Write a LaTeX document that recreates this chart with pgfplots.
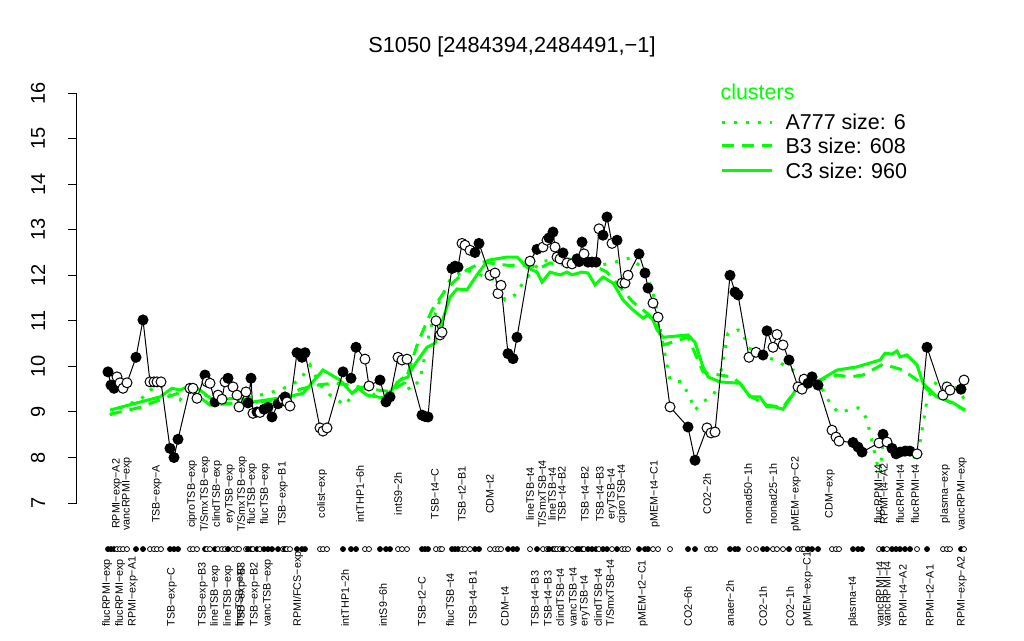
\documentclass[border=0pt]{standalone}
\usepackage{fontspec}
\setmainfont{Liberation Sans}
\usepackage{pgfplots}
\usepackage{pgfplotstable}
\pgfplotsset{compat=1.18}
\definecolor{rgreen}{RGB}{0,255,0}

\pgfplotstableread{
x y f
108 9.88 f
111 9.59 f
114 9.52 f
117 9.77 o
120 9.64 o
123 9.52 o
127 9.64 o
136 10.20 f
143 11.02 f
150 9.66 o
154 9.66 o
157 9.66 o
161 9.66 o
170 8.20 f
174 8.00 f
178 8.40 f
190 9.52 o
193 9.52 o
197 9.30 o
205 9.81 f
207 9.66 o
210 9.63 o
215 9.22 f
218 9.37 o
222 9.28 o
225 9.66 o
228 9.74 f
233 9.55 o
237 9.37 o
239 9.11 o
246 9.44 o
248 9.20 f
251 9.74 f
253 8.97 o
257 9.00 f
260 8.99 o
264 9.06 f
268 9.10 f
272 8.89 f
278 9.18 f
283 9.28 o
285 9.33 f
287 9.22 o
290 9.13 o
297 10.30 f
302 10.20 f
305 10.30 f
320 8.65 o
323 8.58 o
327 8.65 o
343 9.88 f
351 9.74 f
356 10.42 f
365 10.16 o
369 9.57 o
380 9.70 f
386 9.22 f
390 9.33 f
398 10.20 o
402 10.14 o
407 10.16 o
422 8.93 f
425 8.90 f
428 8.89 f
436 11.00 o
440 10.69 o
442 10.75 o
452 12.15 f
455 12.20 f
458 12.18 f
462 12.70 o
465 12.66 o
470 12.55 o
475 12.50 f
479 12.70 f
490 12.00 o
495 12.05 o
498 11.60 o
501 11.78 o
508 10.28 f
513 10.17 f
517 10.64 f
530 12.31 o
537 12.57 f
543 12.62 o
547 12.77 o
549 12.82 f
553 12.95 f
555 12.62 o
557 12.40 o
560 12.36 o
563 12.49 f
567 12.27 o
572 12.25 o
577 12.36 f
579 12.30 f
582 12.73 f
584 12.47 o
588 12.29 f
592 12.29 f
596 12.29 f
599 13.02 o
603 12.88 f
607 13.28 f
612 12.70 o
617 12.77 f
622 11.83 o
625 11.83 o
628 12.00 o
639 12.47 f
645 12.05 f
648 11.72 f
653 11.39 o
658 11.08 o
670 9.11 o
688 8.67 f
695 7.94 f
707 8.65 o
711 8.54 o
715 8.56 o
730 12.00 f
735 11.63 f
738 11.57 f
749 10.20 o
756 10.31 o
763 10.25 f
767 10.78 f
773 10.42 o
777 10.70 o
783 10.47 o
789 10.14 f
798 9.55 o
802 9.50 o
804 9.72 o
808 9.63 f
812 9.77 f
818 9.59 f
832 8.60 o
836 8.45 o
839 8.36 o
853 8.33 f
858 8.23 f
862 8.12 f
879 8.32 o
883 8.51 f
887 8.34 o
892 8.20 f
896 8.08 f
900 8.12 f
905 8.14 f
910 8.14 f
917 8.08 o
927 10.42 f
943 9.37 o
947 9.55 o
950 9.48 o
961 9.50 f
964 9.70 o
}\pts

\pgfplotstableread{
x y
110 9.04
137 9.20
160 9.33
172 9.52
180 9.48
187 9.55
192 9.59
200 9.48
213 9.26
240 9.31
253 9.22
287 9.33
303 9.41
323 9.92
340 9.70
352 9.41
358 9.52
367 9.37
383 9.31
390 9.44
400 9.70
408 9.77
413 9.99
427 10.42
435 10.51
440 10.84
450 11.52
457 11.70
467 11.68
477 12.01
488 12.33
507 12.40
517 12.40
528 12.16
537 12.07
542 11.85
550 12.07
560 12.01
567 12.07
572 12.01
582 12.07
588 12.05
595 11.79
603 11.96
613 11.83
623 11.46
633 11.24
643 11.06
648 11.13
653 11.02
657 10.80
663 10.64
688 10.69
695 10.53
703 9.99
708 9.77
720 9.66
740 9.63
750 9.33
760 9.33
767 9.11
775 9.11
783 9.06
797 9.52
820 9.70
837 9.92
857 9.99
880 10.14
885 10.29
892 10.27
897 10.34
900 10.21
907 10.25
917 10.03
923 9.63
937 9.33
953 9.20
965 9.04
}\cthree

\pgfplotstableread{
x y
110 8.95
140 9.10
170 9.35
190 9.50
210 9.15
240 9.20
280 9.25
300 9.50
320 9.60
335 9.63
350 9.59
370 9.50
390 9.45
405 9.65
418 10.53
432 11.24
447 11.72
467 12.12
483 12.29
507 12.22
527 12.22
540 12.16
550 12.27
567 12.22
583 12.27
597 12.18
607 12.07
620 11.74
633 11.41
647 11.17
657 10.95
663 10.47
688 10.64
703 9.88
708 9.85
732 9.77
740 9.63
750 9.35
767 9.15
783 9.10
797 9.52
820 9.70
837 9.81
850 9.77
863 9.81
883 10.05
903 9.92
917 9.70
930 9.44
965 9.04
}\bthree

\pgfplotstableread{
x y
110 8.93
125 9.15
140 9.26
150 9.48
160 9.59
170 9.37
180 9.26
190 9.59
200 9.44
210 9.31
220 9.15
240 9.26
260 9.37
280 9.48
300 9.70
310 10.03
320 9.59
330 9.37
345 9.15
360 9.59
375 9.37
390 9.26
400 9.81
410 9.48
420 9.70
430 10.80
440 11.46
450 11.90
465 12.12
480 12.01
495 11.90
505 11.46
515 11.57
525 11.90
540 12.29
560 12.38
580 12.33
600 12.22
615 12.29
630 12.38
645 12.12
655 11.46
660 10.84
668 9.92
670 9.70
682 9.66
690 9.31
695 9.04
703 9.22
713 9.37
718 9.55
728 10.73
738 10.80
742 10.78
748 10.42
760 10.25
775 10.14
793 9.92
823 9.48
832 9.11
840 8.98
850 9.06
858 9.09
863 9.00
867 8.82
870 8.54
877 7.88
880 7.66
883 8.38
893 8.16
907 8.23
917 7.94
927 9.26
937 9.70
957 9.52
965 9.26
}\aseven

\tikzset{
  lab/.style={rotate=90, font=\fontsize{4.3}{5}\selectfont, inner sep=0pt},
  blab/.style={lab, anchor=west},
  ulab/.style={lab, anchor=center},
}

\begin{document}
\begin{tikzpicture}
\begin{axis}[
  scale only axis,
  width=369.2pt, height=164pt,
  xmin=77, xmax=1000, ymin=7, ymax=16,
  axis x line=none,
  axis y line=left,
  y axis line style={-, line width=0.4pt},
  ytick={7,8,...,16},
  tick align=outside,
  major tick length=3.6pt,
  tick style={black, line width=0.4pt},
  /pgf/number format/assume math mode=true,
  yticklabel style={font=\fontsize{8}{9}\selectfont, xshift=-5.6pt, rotate=90, anchor=south},
  clip=false,
]
\coordinate (bl) at (axis cs:0,3.992);
\coordinate (tr) at (axis cs:1024,18.043);

% cluster profiles
\addplot[rgreen, line width=1.2pt, dash pattern=on 1.2pt off 3.6pt, no marks] table[x=x,y=y] {\aseven};
\addplot[rgreen, line width=1.2pt, dash pattern=on 4.8pt off 3.2pt, no marks] table[x=x,y=y] {\bthree};
\addplot[rgreen, line width=1.2pt, no marks] table[x=x,y=y] {\cthree};

% probe values
\addplot[black, line width=0.4pt, scatter, point meta=explicit symbolic,
  scatter/classes={
    f={mark=*, mark size=2pt, draw=black, fill=black},
    o={mark=*, mark size=2pt, draw=black, fill=white}}]
  table[x=x, y=y, meta=f] {\pts};

% rug
\addplot[only marks, scatter, point meta=explicit symbolic,
  scatter/classes={
    f={mark=*, mark size=1pt, draw=black, fill=black, line width=0.3pt},
    o={mark=*, mark size=1pt, draw=black, fill=white, line width=0.3pt}}]
  table[x=x, y expr=5.99, meta=f] {\pts};

% title
\node[font=\fontsize{8.7}{10}\selectfont] at (axis cs:512,17.01) {S1050 [2484394,2484491,−1]};

% legend
\node[anchor=west, text=rgreen, font=\fontsize{8.6}{10}\selectfont, inner sep=0pt] at (axis cs:720,16.02) {clusters};
\draw[rgreen, line width=1.2pt, dash pattern=on 1.2pt off 3.6pt] (axis cs:722,15.36) -- (axis cs:772,15.36);
\draw[rgreen, line width=1.2pt, dash pattern=on 4.8pt off 3.2pt] (axis cs:722,14.84) -- (axis cs:772,14.84);
\draw[rgreen, line width=1.2pt] (axis cs:722,14.29) -- (axis cs:772,14.29);
\node[anchor=west, font=\fontsize{8.6}{10}\selectfont, inner sep=0pt] at (axis cs:785,15.36) {A777 size: 6};
\node[anchor=west, font=\fontsize{8.6}{10}\selectfont, inner sep=0pt] at (axis cs:785,14.84) {B3 size: 608};
\node[anchor=west, font=\fontsize{8.6}{10}\selectfont, inner sep=0pt] at (axis cs:785,14.29) {C3 size: 960};

% lower tier labels
\node[blab] at (axis cs:107,4.28) {flucRPMI−exp};
\node[blab] at (axis cs:120,4.28) {flucRPMI−exp};
\node[blab] at (axis cs:133,4.28) {RPMI−exp−A1};
\node[blab] at (axis cs:172,4.28) {TSB−exp−C};
\node[blab] at (axis cs:203,4.28) {TSB−exp−B3};
\node[blab] at (axis cs:215,4.28) {lineTSB−exp};
\node[blab] at (axis cs:228,4.28) {lineTSB−exp};
\node[blab] at (axis cs:240,4.28) {lineTSB−exp};
\node[blab] at (axis cs:242,4.28) {TSB−exp−B3};
\node[blab] at (axis cs:255,4.28) {TSB−exp−B2};
\node[blab] at (axis cs:268,4.28) {vancTSB−exp};
\node[blab] at (axis cs:298,4.28) {RPMI/FCS−exp};
\node[blab] at (axis cs:345,4.28) {intTHP1−2h};
\node[blab] at (axis cs:383,4.28) {intS9−6h};
\node[blab] at (axis cs:422,4.28) {TSB−t2−C};
\node[blab] at (axis cs:450,4.28) {flucTSB−t4};
\node[blab] at (axis cs:473,4.28) {TSB−t4−B1};
\node[blab] at (axis cs:505,4.28) {CDM−t4};
\node[blab] at (axis cs:535,4.28) {TSB−t4−B3};
\node[blab] at (axis cs:548,4.28) {TSB−t4−B3};
\node[blab] at (axis cs:560,4.28) {clindTSB−t4};
\node[blab] at (axis cs:573,4.28) {vancTSB−t4};
\node[blab] at (axis cs:585,4.28) {eryTSB−t4};
\node[blab] at (axis cs:598,4.28) {clindTSB−t4};
\node[blab] at (axis cs:610,4.28) {T/SmxTSB−t4};
\node[blab] at (axis cs:643,4.28) {pMEM−t2−C1};
\node[blab] at (axis cs:688,4.28) {CO2−6h};
\node[blab] at (axis cs:730,4.28) {anaer−2h};
\node[blab] at (axis cs:763,4.28) {CO2−1h};
\node[blab] at (axis cs:790,4.28) {CO2−1h};
\node[blab] at (axis cs:808,4.28) {pMEM−exp−C1};
\node[blab] at (axis cs:853,4.28) {plasma−t4};
\node[blab] at (axis cs:880,4.28) {vancRPMI−t4};
\node[blab] at (axis cs:887,4.28) {vancRPMI−t4};
\node[blab] at (axis cs:903,4.28) {RPMI−t4−A2};
\node[blab] at (axis cs:930,4.28) {RPMI−t2−A1};
\node[blab] at (axis cs:962,4.28) {RPMI−exp−A2};

% upper tier labels
\node[ulab] at (axis cs:117,7.2) {RPMI−exp−A2};
\node[ulab] at (axis cs:127,7.2) {vancRPMI−exp};
\node[ulab] at (axis cs:157,7.2) {TSB−exp−A};
\node[ulab] at (axis cs:192,7.2) {ciproTSB−exp};
\node[ulab] at (axis cs:205,7.2) {T/SmxTSB−exp};
\node[ulab] at (axis cs:217,7.2) {clindTSB−exp};
\node[ulab] at (axis cs:230,7.2) {eryTSB−exp};
\node[ulab] at (axis cs:242,7.2) {T/SmxTSB−exp};
\node[ulab] at (axis cs:252,7.2) {flucTSB−exp};
\node[ulab] at (axis cs:265,7.2) {flucTSB−exp};
\node[ulab] at (axis cs:283,7.2) {TSB−exp−B1};
\node[ulab] at (axis cs:322,7.2) {colist−exp};
\node[ulab] at (axis cs:360,7.2) {intTHP1−6h};
\node[ulab] at (axis cs:398,7.2) {intS9−2h};
\node[ulab] at (axis cs:435,7.2) {TSB−t4−C};
\node[ulab] at (axis cs:462,7.2) {TSB−t2−B1};
\node[ulab] at (axis cs:490,7.2) {CDM−t2};
\node[ulab] at (axis cs:530,7.2) {lineTSB−t4};
\node[ulab] at (axis cs:542,7.2) {T/SmxTSB−t4};
\node[ulab] at (axis cs:552,7.2) {lineTSB−t4};
\node[ulab] at (axis cs:562,7.2) {TSB−t4−B2};
\node[ulab] at (axis cs:585,7.2) {TSB−t4−B2};
\node[ulab] at (axis cs:600,7.2) {TSB−t4−B3};
\node[ulab] at (axis cs:612,7.2) {eryTSB−t4};
\node[ulab] at (axis cs:622,7.2) {ciproTSB−t4};
\node[ulab] at (axis cs:655,7.2) {pMEM−t4−C1};
\node[ulab] at (axis cs:707,7.2) {CO2−2h};
\node[ulab] at (axis cs:748,7.2) {nonad50−1h};
\node[ulab] at (axis cs:773,7.2) {nonad25−1h};
\node[ulab] at (axis cs:796,7.2) {pMEM−exp−C2};
\node[ulab] at (axis cs:830,7.2) {CDM−exp};
\node[ulab] at (axis cs:878,7.2) {flucRPMI−t4};
\node[ulab] at (axis cs:884,7.2) {RPMI−t4−A2};
\node[ulab] at (axis cs:900,7.2) {flucRPMI−t4};
\node[ulab] at (axis cs:915,7.2) {flucRPMI−t4};
\node[ulab] at (axis cs:945,7.2) {plasma−exp};
\node[ulab] at (axis cs:962,7.2) {vancRPMI−exp};
\end{axis}
\pgfresetboundingbox
\path[use as bounding box] (bl) rectangle (tr);
\end{tikzpicture}
\end{document}
